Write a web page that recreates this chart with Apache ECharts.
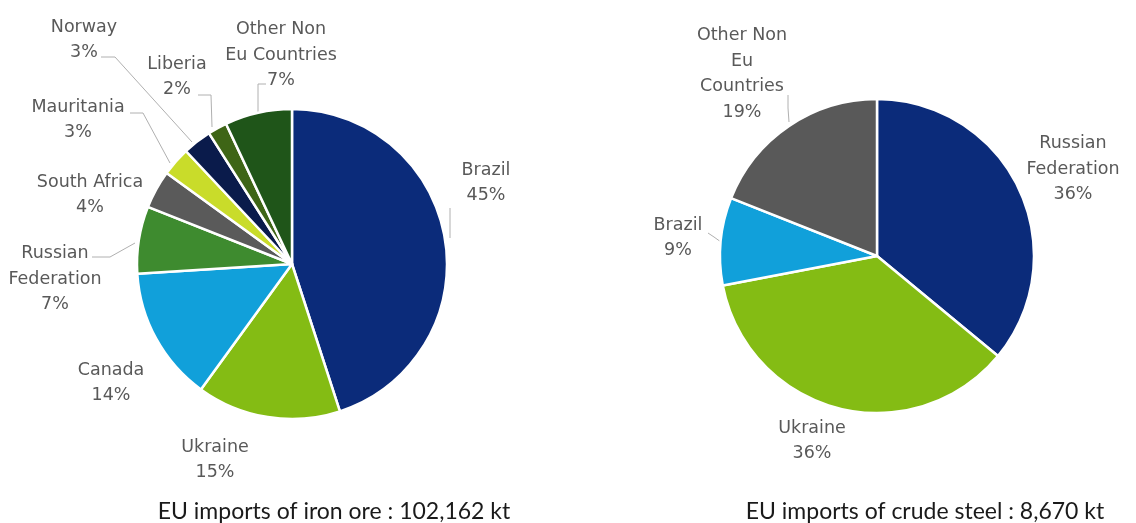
<!DOCTYPE html>
<html>
<head>
<meta charset="utf-8">
<script src="https://cdn.jsdelivr.net/npm/echarts@6/dist/echarts.min.js"></script>
<style>
html,body{margin:0;padding:0;background:#fff;}
#chart{width:1136px;height:523px;}
</style>
</head>
<body>
<div id="chart"></div>
<script>
// ---- data ----
const oreCategories = ['Brazil', 'Ukraine', 'Canada', 'Russian\nFederation', 'South Africa', 'Mauritania', 'Norway', 'Liberia', 'Other Non\nEu Countries'];
const oreShares = [45, 15, 14, 7, 4, 3, 3, 2, 7];
const steelCategories = ['Russian\nFederation', 'Ukraine', 'Brazil', 'Other Non\nEu\nCountries'];
const steelShares = [36, 36, 9, 19];
const titles = ['EU imports of iron ore : 102,162 kt', 'EU imports of crude steel : 8,670 kt'];

// ---- styles / layout ----
const oreColors = ['#0B2B7A', '#84BC14', '#11A0DA', '#3E8B2F', '#5A5A5A', '#C9DC2A', '#0A1B4B', '#3E6516', '#1F5519'];
const steelColors = ['#0B2B7A', '#84BC14', '#11A0DA', '#595959'];
const oreLabelPos = [[486,183],[215,460],[111,383],[55,279],[90,195],[78,120],[84,40],[177,77],[281,55]];
const oreLinePts = [
  [[450,238],[450,222],[450,208]],
  null, null,
  [[135,243],[110,257],[92,257]],
  null,
  [[170,163],[143,113],[130,113]],
  [[192,142],[115,57],[101,57]],
  [[212,127],[211,95],[198,95]],
  [[258,112],[258,84],[266,84]]
];
const steelLabelPos = [[1073,169],[812,441],[678,238],[742,74]];
const steelLinePts = [null, null, [[721,242],[714,237],[708,233]], [[789,122],[788,108],[788,95]]];

function buildData(cats, vals, colors, lines) {
  return cats.map((c, i) => ({
    name: c, value: vals[i],
    itemStyle: { color: colors[i] },
    labelLine: { show: !!lines[i] }
  }));
}
function layoutFn(pos, lines) {
  return function (p) {
    const i = p.dataIndex;
    const r = { x: pos[i][0], y: pos[i][1], align: 'center', verticalAlign: 'middle' };
    if (lines[i]) r.labelLinePoints = lines[i];
    return r;
  };
}
const labelStyle = {
  show: true, position: 'outside',
  formatter: p => p.name + '\n' + p.value + '%',
  color: '#595959', fontFamily: 'DejaVu Sans', fontSize: 17.5, lineHeight: 25.5, align: 'center'
};
const titleStyle = { fontFamily: 'Lato', fontWeight: 'normal', fontSize: 23, color: '#1a1a1a' };
const chart = echarts.init(document.getElementById('chart'), null, { renderer: 'canvas' });
chart.setOption({
  backgroundColor: '#fff',
  animation: false,
  title: [
    { text: titles[0], left: 334, top: 500, textAlign: 'center', padding: 0, textStyle: titleStyle },
    { text: titles[1], left: 925, top: 500, textAlign: 'center', padding: 0, textStyle: titleStyle }
  ],
  series: [
    {
      type: 'pie', center: [292, 264], radius: [0, 155], startAngle: 90, clockwise: true,
      avoidLabelOverlap: false,
      itemStyle: { borderColor: '#fff', borderWidth: 2.5 },
      label: labelStyle,
      labelLine: { show: true, lineStyle: { color: '#b0b0b0', width: 1 } },
      labelLayout: layoutFn(oreLabelPos, oreLinePts),
      emphasis: { disabled: true },
      data: buildData(oreCategories, oreShares, oreColors, oreLinePts)
    },
    {
      type: 'pie', center: [877, 256], radius: [0, 157], startAngle: 90, clockwise: true,
      avoidLabelOverlap: false,
      itemStyle: { borderColor: '#fff', borderWidth: 2.5 },
      label: labelStyle,
      labelLine: { show: true, lineStyle: { color: '#b0b0b0', width: 1 } },
      labelLayout: layoutFn(steelLabelPos, steelLinePts),
      emphasis: { disabled: true },
      data: buildData(steelCategories, steelShares, steelColors, steelLinePts)
    }
  ]
});
</script>
</body>
</html>
